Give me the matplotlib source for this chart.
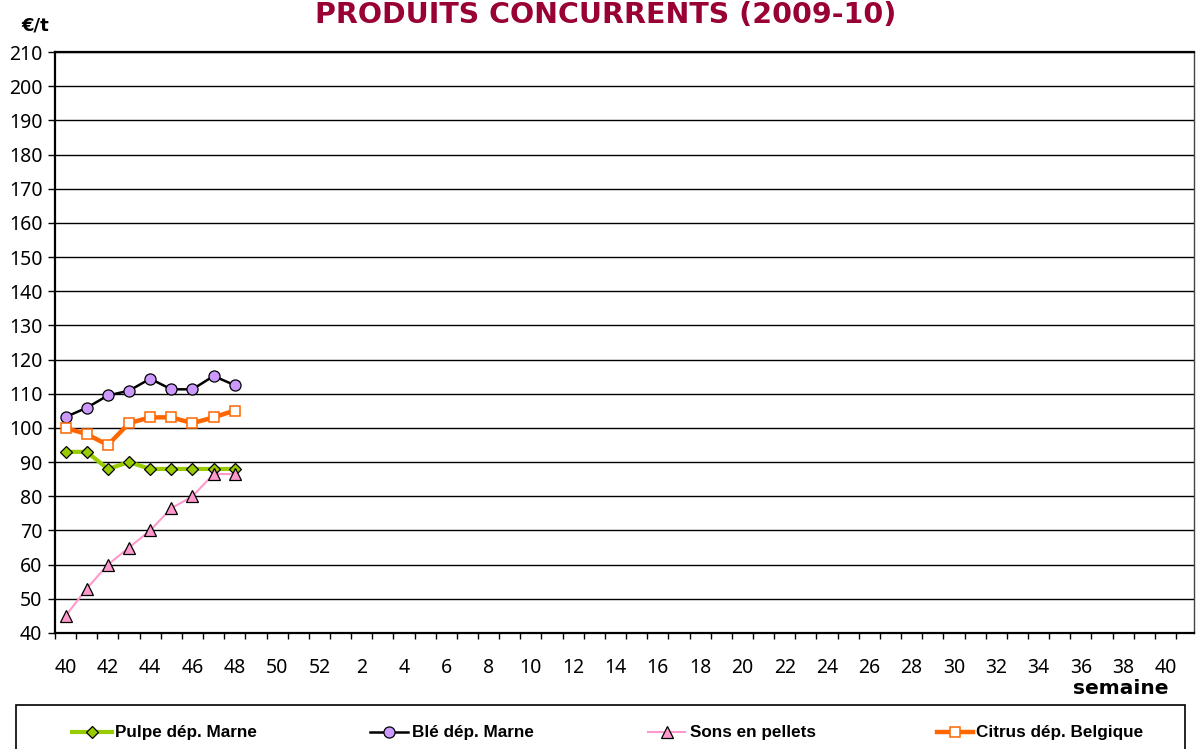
import matplotlib
matplotlib.use("Agg")
import matplotlib.pyplot as plt
from matplotlib.lines import Line2D
from matplotlib.patches import Rectangle
import numpy as np

# weeks of campaign 2009-10: 40..52 then 1..40
weeks = list(range(40, 53)) + list(range(1, 41))

pulpe = [93, 93, 88, 90, 88, 88, 88, 88, 88]
ble = [103.2, 105.9, 109.5, 110.9, 114.4, 111.3, 111.3, 115.2, 112.5]
sons = [45, 53, 60, 65, 70, 76.5, 80, 86.5, 86.5]
citrus = [100, 98.2, 95, 101.4, 103.1, 103.1, 101.4, 103.1, 105.1]

series = [
    ("Pulpe dép. Marne", pulpe,
     dict(color="#99CC00", lw=3.0, marker="D", ms=6.3, mfc="#99CC00", mec="black", mew=0.9)),
    ("Blé dép. Marne", ble,
     dict(color="black", lw=1.8, marker="o", ms=8, mfc="#CC99FF", mec="black", mew=0.9)),
    ("Sons en pellets", sons,
     dict(color="#FF99CC", lw=1.5, marker="^", ms=9, mfc="#FF99CC", mec="black", mew=0.9)),
    ("Citrus dép. Belgique", citrus,
     dict(color="#FF6600", lw=3.2, marker="s", ms=7.5, mfc="white", mec="#FF6600", mew=1.1)),
]

W, H = 1196, 749
fig = plt.figure(figsize=(W / 100, H / 100), dpi=100)
ax = fig.add_axes([55 / W, 1 - 633 / H, (1194 - 55) / W, (633 - 52) / H])

idx = np.arange(len(weeks))
for name, vals, st in series:
    ax.plot(idx[:len(vals)], vals, zorder=3, clip_on=False, **st)

ax.set_ylim(40, 210)
ax.set_yticks(np.arange(40, 211, 10))
ax.set_xlim(-0.5, 53.35)
ax.yaxis.grid(True, color="black", lw=1.0, zorder=1)

# category boundaries as major ticks, labels every other week
ax.set_xticks(np.arange(-0.5, len(weeks), 1.0))
ax.set_xticklabels([])
ax.set_xticks(idx[::2], minor=True)
ax.set_xticklabels([str(w) for w in weeks[::2]], minor=True)
ax.tick_params(axis="x", which="major", direction="out", length=4, width=1, color="black")
ax.tick_params(axis="x", which="minor", length=0, pad=18, labelsize=14)
ax.tick_params(axis="y", direction="out", length=5, width=1, pad=4, labelsize=14)
for lbl in ax.get_xticklabels(minor=True) + ax.get_yticklabels():
    lbl.set_fontfamily("Noto Sans")

for s in ["left", "bottom", "top"]:
    ax.spines[s].set_linewidth(1.6)
    ax.spines[s].set_color("black")
ax.spines["right"].set_linewidth(1.0)
ax.spines["right"].set_color("#444444")

fig.text(606 / W, 1 - 23 / H, "PRODUITS CONCURRENTS (2009-10)", ha="center", va="baseline",
         fontsize=20.5, fontweight="bold", color="#990033", family="DejaVu Sans")
fig.text(35 / W, 1 - 30 / H, "€/t", ha="center", va="baseline",
         fontsize=13, fontweight="bold", family="DejaVu Sans")
fig.text(1168 / W, 1 - 688 / H, "semaine", ha="right", va="center",
         fontsize=14.5, fontweight="bold", family="DejaVu Sans")

# legend box drawn by hand
fig.add_artist(Rectangle((16 / W, -0.05), (1185 - 16) / W, 0.05 + 1 - 705 / H,
                         transform=fig.transFigure, fill=False, ec="black", lw=1.2))
leg_pos = [(72, 112, 115), (370, 408, 412), (648, 685, 690), (937, 973, 976)]
ly = 1 - 732 / H
for (name, vals, st), (x0, x1, xt) in zip(series, leg_pos):
    line_st = {k: v for k, v in st.items() if k in ("color", "lw")}
    mk_st = {k: v for k, v in st.items() if k not in ("color", "lw")}
    fig.add_artist(Line2D([x0 / W, x1 / W], [ly, ly], transform=fig.transFigure, **line_st))
    fig.add_artist(Line2D([(x0 + x1) / 2 / W], [ly], transform=fig.transFigure,
                          ls="none", **mk_st))
    fig.text(xt / W, ly, name, ha="left", va="center", fontsize=12.3,
             fontweight="bold", family="Liberation Sans")

fig.savefig("out.png", dpi=100)
plt.close()
